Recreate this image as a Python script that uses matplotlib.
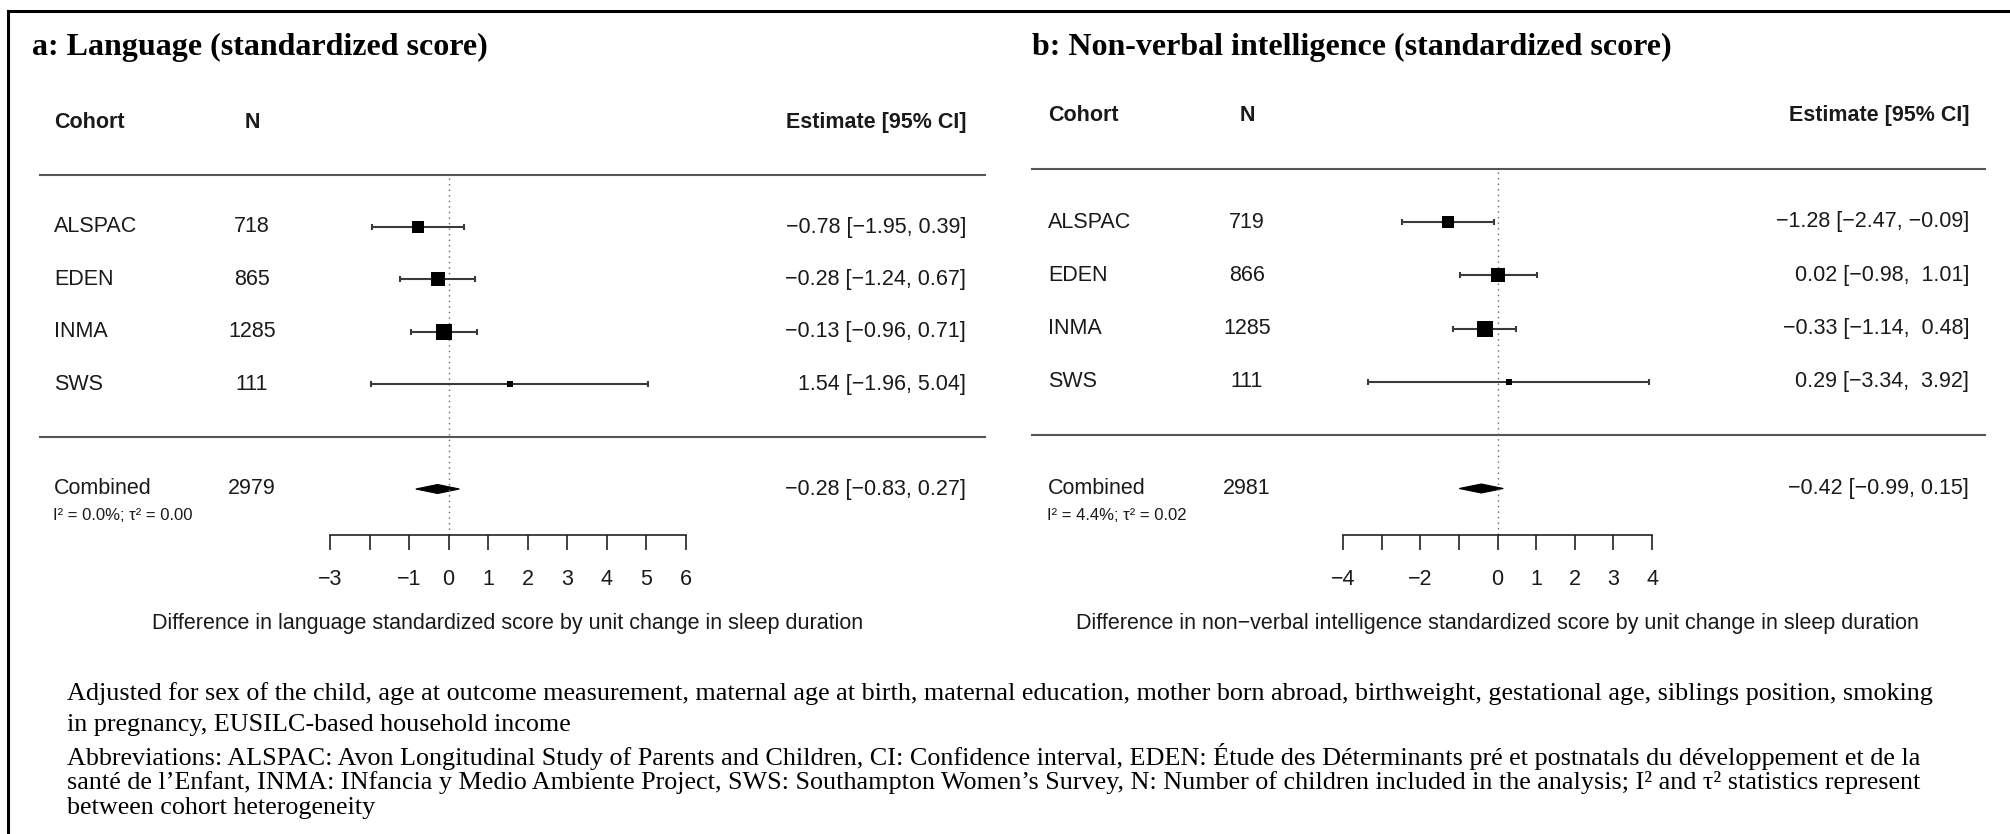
import numpy as np
import matplotlib.pyplot as plt
import matplotlib.transforms as mtransforms
from matplotlib.lines import Line2D
from matplotlib.patches import Polygon

plt.rcParams['font.family'] = ['Liberation Sans', 'DejaVu Sans']

W, H = 2010, 834

# ---- data ----
cohorts = ["ALSPAC", "EDEN", "INMA", "SWS"]

lang_n = [718, 865, 1285, 111]
lang_est = [-0.78, -0.28, -0.13, 1.54]
lang_lo = [-1.95, -1.24, -0.96, -1.96]
lang_hi = [0.39, 0.67, 0.71, 5.04]
lang_comb_n = 2979
lang_comb = [-0.28, -0.83, 0.27]
lang_het = "I² = 0.0%; τ² = 0.00"
lang_ticks = [-3, -2, -1, 0, 1, 2, 3, 4, 5, 6]
lang_ticklabels = ["\u22123", "", "\u22121", "0", "1", "2", "3", "4", "5", "6"]

nvi_n = [719, 866, 1285, 111]
nvi_est = [-1.28, 0.02, -0.33, 0.29]
nvi_lo = [-2.47, -0.98, -1.14, -3.34]
nvi_hi = [-0.09, 1.01, 0.48, 3.92]
nvi_comb_n = 2981
nvi_comb = [-0.42, -0.99, 0.15]
nvi_het = "I² = 4.4%; τ² = 0.02"
nvi_ticks = [-4, -3, -2, -1, 0, 1, 2, 3, 4]
nvi_ticklabels = ["\u22124", "", "\u22122", "", "0", "1", "2", "3", "4"]

footnote = [
    "Adjusted for sex of the child, age at outcome measurement, maternal age at birth, maternal education, mother born abroad, birthweight, gestational age, siblings position, smoking",
    "in pregnancy, EUSILC-based household income",
    "Abbreviations: ALSPAC: Avon Longitudinal Study of Parents and Children, CI: Confidence interval, EDEN: \u00c9tude des D\u00e9terminants pr\u00e9 et postnatals du d\u00e9veloppement et de la",
    "sant\u00e9 de l\u2019Enfant, INMA: INfancia y Medio Ambiente Project, SWS: Southampton Women\u2019s Survey, N: Number of children included in the analysis; I\u00b2 and \u03c4\u00b2 statistics represent",
    "between cohort heterogeneity",
]


def fmt(v):
    return f"{v:.2f}".replace("-", "\u2212")


def ci_labels(est, lo, hi):
    lo_s = [fmt(v) for v in lo]
    hi_s = [fmt(v) for v in hi]
    wl = max(len(s) for s in lo_s)
    wh = max(len(s) for s in hi_s)
    return [f"{fmt(e)} [{l.rjust(wl)}, {h.rjust(wh)}]" for e, l, h in zip(est, lo_s, hi_s)]


def square_sizes(lo, hi, px_max=16):
    # box size from 1/se, rescaled to 0.5..1.5 (like forest plots in R)
    se = (np.array(hi) - np.array(lo)) / 3.92
    w = 1 / se
    p = (w - w.min()) / (w.max() - w.min()) + 0.5
    return p / 1.5 * px_max


fig = plt.figure(figsize=(W / 100, H / 100), dpi=100)

# frame (left and top only, picture is cropped)
fig.add_artist(Line2D([8 / W, 8 / W], [0, 1 - 11 / H], color='black', lw=2.2))
fig.add_artist(Line2D([8 / W, 1], [1 - 11 / H, 1 - 11 / H], color='black', lw=2.2))

fs = 15.5
txt_col = '#1a1a1a'


def panel(title, x0, ax_l, ax_r, col_cohort, col_n, col_est, line_l, line_r,
          y0, dy, n, est, lo, hi, comb_n, comb, het, ticks, ticklabels, xlabel):
    y_axis = 535
    ax = fig.add_axes([ax_l / W, 1 - y_axis / H, (ax_r - ax_l) / W, (y_axis - 95) / H])
    ax.set_xlim(ticks[0], ticks[-1])
    ax.set_ylim(y_axis, 95)
    ax.patch.set_visible(False)
    for s in ['top', 'left', 'right']:
        ax.spines[s].set_visible(False)
    ax.spines['bottom'].set_linewidth(1.2)
    ax.spines['bottom'].set_color('#222222')
    ax.set_yticks([])
    ax.set_xticks(ticks)
    ax.set_xticklabels(ticklabels)
    ax.tick_params(axis='x', direction='out', length=10.8, width=1.2, color='#222222',
                   pad=14, labelsize=fs, labelcolor=txt_col)

    tr = mtransforms.blended_transform_factory(fig.transFigure, ax.transData)

    fig.text(x0 / W, 1 - 47 / H, title, family='Liberation Serif', weight='bold',
             fontsize=23, va='center', ha='left')

    y_head = y0 - 2 * dy
    ax.text(col_cohort / W, y_head, "Cohort", transform=tr, weight='bold', fontsize=fs,
            va='center', ha='left', color=txt_col)
    ax.text(col_n / W, y_head, "N", transform=tr, weight='bold', fontsize=fs,
            va='center', ha='center', color=txt_col)
    ax.text(col_est / W, y_head, "Estimate [95% CI]", transform=tr, weight='bold', fontsize=fs,
            va='center', ha='right', color=txt_col)

    for yl in [y0 - dy, y0 + 4 * dy]:
        ax.plot([line_l / W, line_r / W], [yl, yl], transform=tr, color='#555555', lw=1.5,
                clip_on=False)

    ax.plot([0, 0], [y0 - dy + 3, y_axis], color='#666666', lw=1.0, ls=(0, (1, 3)))

    rows = y0 + dy * np.arange(len(cohorts))
    sizes = square_sizes(lo, hi)
    labels = ci_labels(est, lo, hi)
    for i, name in enumerate(cohorts):
        y = rows[i]
        ax.errorbar(est[i], y, xerr=[[est[i] - lo[i]], [hi[i] - est[i]]], fmt='none',
                    ecolor='#3a3a3a', elinewidth=1.5, capsize=2.5, capthick=1.5)
        ax.plot(est[i], y, marker='s', ms=sizes[i] * 0.72, color='black', mec='black', mew=0)
        ax.text(col_cohort / W, y, name, transform=tr, fontsize=fs, va='center', ha='left',
                color=txt_col)
        ax.text(col_n / W, y, str(n[i]), transform=tr, fontsize=fs, va='center', ha='center',
                color=txt_col)
        ax.text(col_est / W, y, labels[i], transform=tr, fontsize=fs, va='center', ha='right',
                color=txt_col)

    yc = y0 + 5 * dy
    ce, cl, ch = comb
    ax.add_patch(Polygon([[cl, yc], [ce, yc - 4.5], [ch, yc], [ce, yc + 4.5]], closed=True,
                         facecolor='black', edgecolor='black', lw=0.8))
    ax.text(col_cohort / W, yc, "Combined", transform=tr, fontsize=fs, va='center', ha='left',
            color=txt_col)
    ax.text(col_n / W, yc, str(comb_n), transform=tr, fontsize=fs, va='center', ha='center',
            color=txt_col)
    ax.text(col_est / W, yc, ci_labels([ce], [cl], [ch])[0], transform=tr, fontsize=fs,
            va='center', ha='right', color=txt_col)
    ax.text((col_cohort - 1) / W, yc + 27, het, transform=tr, fontsize=12, va='center',
            ha='left', color=txt_col)

    ax.text(0.5, 623, xlabel, transform=mtransforms.blended_transform_factory(ax.transAxes, ax.transData),
            fontsize=fs, va='center', ha='center', color=txt_col)


panel("a: Language (standardized score)", 32, 330, 686, 54, 252, 966, 40, 985,
      227, 52.4, lang_n, lang_est, lang_lo, lang_hi, lang_comb_n, lang_comb, lang_het,
      lang_ticks, lang_ticklabels,
      "Difference in language standardized score by unit change in sleep duration")

panel("b: Non-verbal intelligence (standardized score)", 1032, 1343, 1652, 1048, 1247, 1969,
      1032, 1985, 222, 53.3, nvi_n, nvi_est, nvi_lo, nvi_hi, nvi_comb_n, nvi_comb, nvi_het,
      nvi_ticks, nvi_ticklabels,
      "Difference in non\u2212verbal intelligence standardized score by unit change in sleep duration")

foot_y = [694, 725, 756, 783, 808]
for line, y in zip(footnote, foot_y):
    fig.text(67 / W, 1 - y / H, line, family='Liberation Serif', fontsize=18.8, va='center',
             ha='left', color='black')

fig.savefig('out.png', dpi=100)
